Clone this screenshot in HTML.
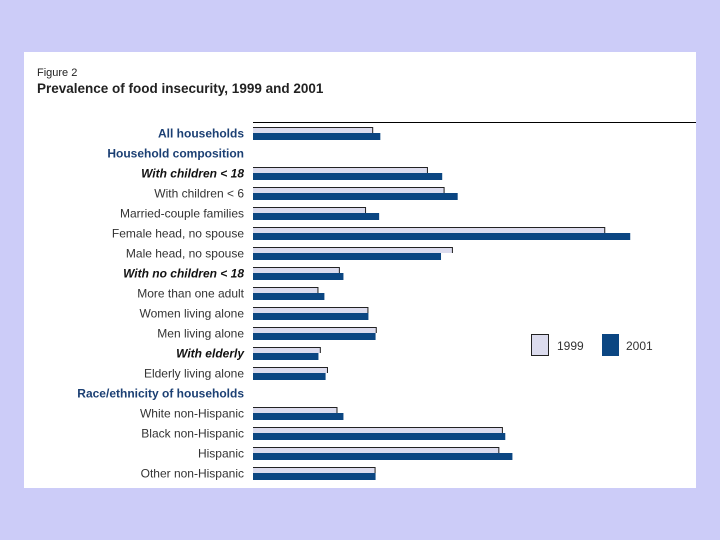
<!DOCTYPE html>
<html><head><meta charset="utf-8"><style>
body{margin:0;width:720px;height:540px;background:#ccccf8;font-family:"Liberation Sans",sans-serif;overflow:hidden}
#panel{position:absolute;left:24px;top:52px;width:672px;height:436px;background:#fff}
</style></head><body>
<div id="panel"></div>
<svg id="chart" width="720" height="540" style="position:absolute;left:0;top:0">
<text x="37" y="76" font-size="11" fill="#222">Figure 2</text>
<text x="37" y="93" font-size="13.5" font-weight="bold" fill="#222">Prevalence of food insecurity, 1999 and 2001</text>
<line x1="253" y1="122.5" x2="696" y2="122.5" stroke="#000"/>
<g id="bars"></g>
<g>
<rect x="531.5" y="334.5" width="17" height="21" fill="#dcdcee" stroke="#222"/>
<text x="557" y="350" font-size="12" fill="#333">1999</text>
<rect x="602" y="334" width="17" height="22" fill="#0b4682"/>
<text x="626" y="350" font-size="12" fill="#333">2001</text>
</g>
</svg>
<script>
const categories=["All households","Household composition","With children < 18","With children < 6","Married-couple families","Female head, no spouse","Male head, no spouse","With no children < 18","More than one adult","Women living alone","Men living alone","With elderly","Elderly living alone","Race/ethnicity of households","White non-Hispanic","Black non-Hispanic","Hispanic","Other non-Hispanic"];
const styles=["blue","blue","italic","","","","","italic","","","","italic","","blue","","","",""];
const v1999=[10.1,null,14.7,16.1,9.5,29.6,16.8,7.3,5.5,9.7,10.4,5.7,6.3,null,7.1,21.0,20.7,10.3];
const v2001=[10.7,null,15.9,17.2,10.6,31.7,15.8,7.6,6.0,9.7,10.3,5.5,6.1,null,7.6,21.2,21.8,10.3];
const x0=253,pxPer=11.9;
function xs(v){return v*pxPer;}
function yc(i){return 133+i*20;}
const g=document.getElementById('bars');
const NS="http://www.w3.org/2000/svg";
categories.forEach((c,i)=>{
  const t=document.createElementNS(NS,'text');
  
  
  t.setAttribute('x',244);t.setAttribute('y',yc(i)+4.5);t.setAttribute('text-anchor','end');
  t.setAttribute('font-size','12');
  if(styles[i]==='blue'){t.setAttribute('fill','#1b3f73');t.setAttribute('font-weight','bold');}
  else if(styles[i]==='italic'){t.setAttribute('fill','#111');t.setAttribute('font-weight','bold');t.setAttribute('font-style','italic');}
  else t.setAttribute('fill','#333');
  t.textContent=c;g.appendChild(t);
  if(v1999[i]!=null){
    const r=document.createElementNS(NS,'rect');
    
    
    r.setAttribute('x',x0);r.setAttribute('y',yc(i)-6);r.setAttribute('width',xs(v1999[i]));r.setAttribute('height',6);r.setAttribute('fill','#dcdcee');
    g.appendChild(r);
    const p=document.createElementNS(NS,'path');
    
    
    const xe=x0+xs(v1999[i]);
    p.setAttribute('d',`M${x0} ${yc(i)-5.5} H${xe-0.5} V${yc(i)}`);p.setAttribute('stroke','#222');p.setAttribute('fill','none');
    g.appendChild(p);
  }
  if(v2001[i]!=null){
    const r=document.createElementNS(NS,'rect');
    
    
    r.setAttribute('x',x0);r.setAttribute('y',yc(i));r.setAttribute('width',xs(v2001[i]));r.setAttribute('height',7);r.setAttribute('fill','#0b4682');
    g.appendChild(r);
  }
});
</script>
</body></html>
